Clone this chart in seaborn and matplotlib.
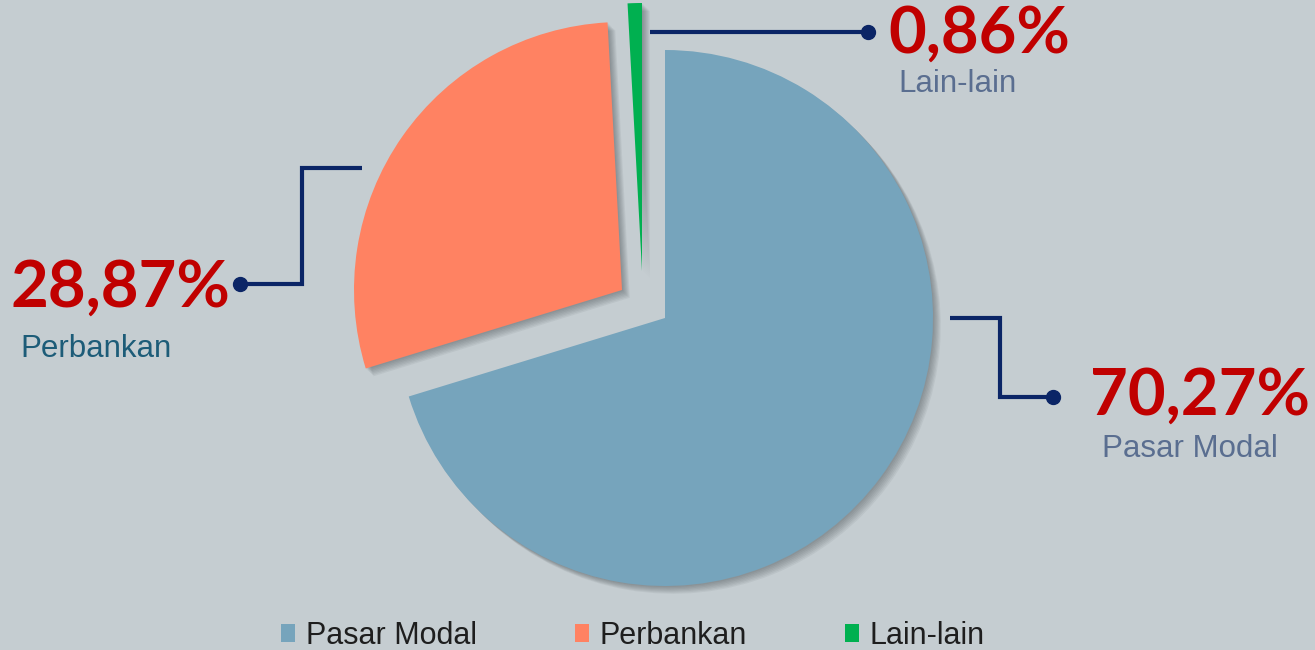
import matplotlib
matplotlib.use("Agg")
import matplotlib.pyplot as plt
from matplotlib.patches import Patch, Shadow
import seaborn as sns

# data
labels = ["Pasar Modal", "Perbankan", "Lain-lain"]
shares = [70.27, 28.87, 0.86]
value_text = ["70,27%", "28,87%", "0,86%"]

colors = ["#76A4BC", "#FF8262", "#00B050"]
bg = "#C5CDD1"
navy = "#0B2566"
red = "#C00000"

sns.set_theme(style="white")
plt.rcParams["font.family"] = ["Liberation Sans", "DejaVu Sans"]

fig = plt.figure(figsize=(13.15, 6.5), dpi=100, facecolor=bg)
ax = fig.add_axes([0, 0, 1, 1])
ax.set_facecolor(bg)

wedges, _ = ax.pie(shares, colors=colors, startangle=90, counterclock=False,
                   center=(665, 332), radius=268, frame=True,
                   wedgeprops=dict(linewidth=0))
ax.set_xlim(0, 1315)
ax.set_ylim(0, 650)
ax.set_aspect("equal")
ax.axis("off")

# pulled-out slices (pixel shifts) + soft shadow
shift = [(0, 0), (-43, 28), (-23, 47)]
for w, (dx, dy) in zip(wedges, shift):
    cx, cy = w.center
    w.set_center((cx + dx, cy + dy))
    for k in range(1, 8):
        ax.add_patch(Shadow(w, k * 0.8, -k * 0.8, facecolor="#3c4448",
                            edgecolor="none", alpha=0.07))

# leader lines
line_kw = dict(color=navy, lw=3, solid_capstyle="butt", solid_joinstyle="miter")
ax.plot([950, 1000, 1000, 1053], [332, 332, 253, 253], **line_kw)
ax.plot([1053], [253], "o", color=navy, ms=10)
ax.plot([362, 302, 302, 240], [482, 482, 366, 366], **line_kw)
ax.plot([240], [366], "o", color=navy, ms=10)
ax.plot([650, 868], [618, 618], **line_kw)
ax.plot([868], [618], "o", color=navy, ms=10)

big = dict(color=red, fontsize=47, fontweight="bold", family=["Lato", "DejaVu Sans"],
           va="center")
ax.text(1200, 254, value_text[0], ha="center", **big)
ax.text(120, 362, value_text[1], ha="center", **big)
ax.text(979, 616, value_text[2], ha="center", **big)

small = dict(fontsize=22.5, va="center")
ax.text(1190, 201, labels[0], ha="center", color="#5A6E90", **small)
ax.text(20, 301, labels[1], ha="left", color="#1D5C78", **small)
ax.text(898, 566, labels[2], ha="left", color="#5A6E90", **small)

handles = [Patch(facecolor=c, edgecolor="none") for c in colors]
fig.legend(handles, labels, loc="center", ncol=3,
           bbox_to_anchor=(633 / 1315, 14 / 650),
           frameon=False, handlelength=0.45, handleheight=0.55,
           handletextpad=0.36, columnspacing=3.2, borderpad=0,
           labelcolor="#1e1e1e",
           prop=dict(family=["Liberation Sans", "DejaVu Sans"], size=22))

fig.savefig("out.png", dpi=100, facecolor=bg)
